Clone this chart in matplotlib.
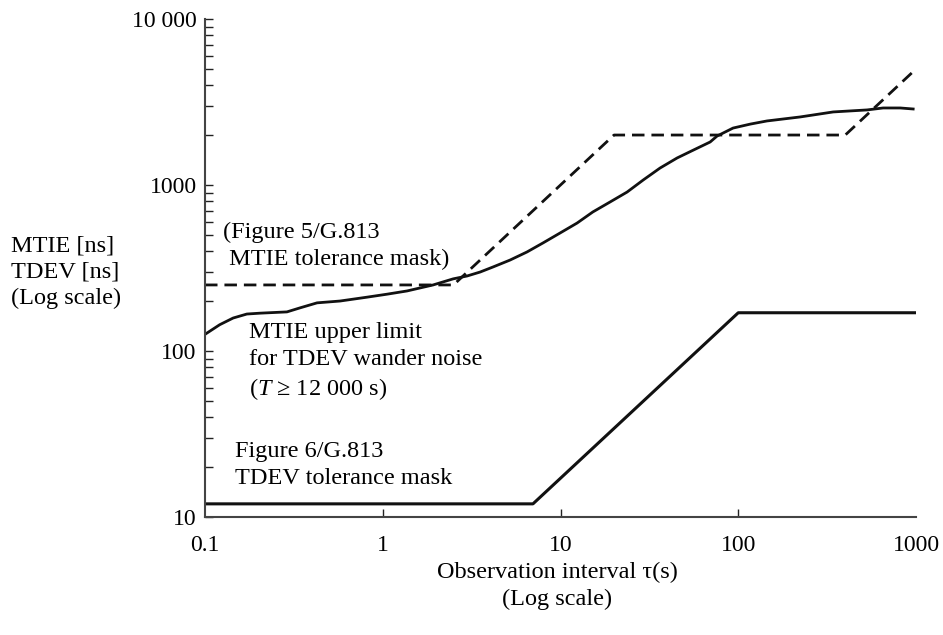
import matplotlib
matplotlib.use('Agg')
import matplotlib.pyplot as plt

plt.rcParams['font.family'] = ['Liberation Serif', 'DejaVu Serif']
plt.rcParams['mathtext.fontset'] = 'custom'
plt.rcParams['mathtext.it'] = 'Liberation Serif:italic'
plt.rcParams['mathtext.rm'] = 'Liberation Serif'

# MTIE tolerance mask (Figure 5/G.813), dashed
mask_mtie_x = [0.1, 2.5, 20, 400, 1000]
mask_mtie_y = [250, 250, 2000, 2000, 5000]

# TDEV tolerance mask (Figure 6/G.813)
mask_tdev_x = [0.1, 7, 100, 1000]
mask_tdev_y = [12, 12, 170, 170]

# MTIE upper limit for TDEV wander noise
mtie_x = [0.100, 0.121, 0.144, 0.172, 0.204, 0.289, 0.343, 0.427, 0.575, 0.816,
          1.06, 1.37, 1.92, 2.49, 2.98, 3.53, 4.18, 5.20, 6.48, 7.98,
          9.95, 12.4, 15.2, 19.0, 23.7, 29.2, 36.3, 45.3, 55.7, 69.5,
          76.0, 93.5, 117, 145, 223, 342, 531, 653, 815, 964]
mtie_y = [126, 144, 158, 167, 169, 172, 182, 195, 200, 211,
          220, 230, 250, 272, 283, 299, 321, 353, 395, 448,
          514, 590, 688, 790, 907, 1072, 1265, 1455, 1620, 1816,
          1972, 2203, 2328, 2431, 2570, 2755, 2833, 2911, 2911, 2870]

xticks = [0.1, 1, 10, 100, 1000]
xlabels = ['0.1', '1', '10', '100', '1000']
yticks = [10, 100, 1000, 10000]
ylabels = ['10', '100', '1000', '10 000']

fig = plt.figure(figsize=(9.43, 6.35), dpi=100)
ax = fig.add_axes([205/943, 1-517/635, (916-205)/943, (517-19)/635])

ax.plot(mask_mtie_x, mask_mtie_y, color='#111111', lw=2, dashes=(4.5, 2.5))
ax.plot(mask_tdev_x, mask_tdev_y, color='#111111', lw=2.2)
ax.plot(mtie_x, mtie_y, color='#111111', lw=2, solid_joinstyle='round')

ax.set_xscale('log')
ax.set_yscale('log')
ax.set_xlim(0.1, 1000)
ax.set_ylim(10, 10000)

for s in ['top', 'right']:
    ax.spines[s].set_visible(False)
for s in ['left', 'bottom']:
    ax.spines[s].set_color('#444444')
    ax.spines[s].set_linewidth(1.5)

ax.set_xticks(xticks)
ax.set_xticklabels(xlabels)
ax.xaxis.set_minor_locator(matplotlib.ticker.NullLocator())
ax.set_yticks(yticks)
ax.set_yticklabels(ylabels)
ax.yaxis.set_minor_locator(matplotlib.ticker.LogLocator(base=10, subs=range(2, 10)))
ax.yaxis.set_minor_formatter(matplotlib.ticker.NullFormatter())

ax.tick_params(axis='both', which='both', direction='in', color='#222222',
               width=1, labelsize=17, labelcolor='black')
ax.tick_params(axis='y', which='major', length=6, pad=6)
ax.tick_params(axis='y', which='minor', length=6)
ax.tick_params(axis='x', which='major', length=6, pad=13)
ax.xaxis.get_major_ticks()[0].tick1line.set_visible(False)
ax.xaxis.get_major_ticks()[-1].tick1line.set_visible(False)

fs = 17.5
ls = 1.32
fig.text(11/943, 1-272/635, 'MTIE [ns]\nTDEV [ns]\n(Log scale)', fontsize=fs,
         ha='left', va='center', linespacing=ls)

fig.text(223/943, 1-246/635, '(Figure 5/G.813\n MTIE tolerance mask)', fontsize=fs,
         ha='left', va='center', linespacing=ls)
fig.text(249/943, 1-362/635, 'MTIE upper limit\nfor TDEV wander noise\n($T$ ≥ 12 000 s)',
         fontsize=fs, ha='left', va='center', linespacing=ls)
fig.text(235/943, 1-465/635, 'Figure 6/G.813\nTDEV tolerance mask', fontsize=fs,
         ha='left', va='center', linespacing=ls)

fig.text(557/943, 1-586/635, 'Observation interval τ(s)\n(Log scale)', fontsize=fs,
         ha='center', va='center', linespacing=ls)

fig.savefig('out.png', dpi=100)
